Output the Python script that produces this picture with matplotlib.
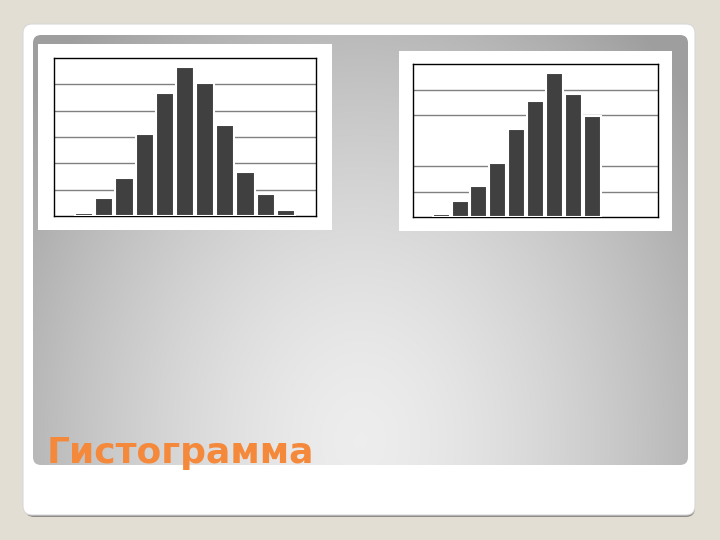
import matplotlib
matplotlib.use("Agg")
import matplotlib.pyplot as plt
import numpy as np
from matplotlib.patches import FancyBboxPatch, Rectangle

# bar heights (grid step = 5)
left_vals = [0.5, 3.5, 7.3, 15.5, 23.3, 28.2, 25.2, 17.2, 8.4, 4.1, 1.2]
right_vals = [0.5, 3.1, 6.0, 10.5, 17.3, 22.8, 28.2, 24.1, 19.8]
left_grid = [5, 10, 15, 20, 25]
right_grid = [5, 10, 20, 25]
title = "Гистограмма"

fig = plt.figure(figsize=(7.2, 5.4), dpi=100)
fig.patch.set_facecolor('#e3ded3')

bg = fig.add_axes([0, 0, 1, 1])
bg.set_xlim(0, 720)
bg.set_ylim(540, 0)
bg.axis('off')

# slide frame
bg.add_patch(FancyBboxPatch((25, 27), 670, 490, boxstyle="round,pad=0,rounding_size=9",
                            fc='#8f8a85', ec='none'))
bg.add_patch(FancyBboxPatch((23, 24), 672, 491, boxstyle="round,pad=0,rounding_size=9",
                            fc='white', ec='#d8d8d8', lw=0.8))

# gray gradient panel
yy, xx = np.mgrid[35:465, 33:688]
d = np.sqrt(((xx - 360) / 330.0) ** 2 + ((yy - 440) / 420.0) ** 2)
shade = np.clip(0.93 - 0.21 * d ** 1.5, 0.62, 1)
img = np.dstack([shade, shade, shade])
panel = FancyBboxPatch((33, 35), 655, 430, boxstyle="round,pad=0,rounding_size=8",
                       fc='none', ec='none')
bg.add_patch(panel)
im = bg.imshow(img, extent=(33, 688, 465, 35), aspect='auto', zorder=1)
im.set_clip_path(panel)

# white chart boxes
bg.add_patch(Rectangle((38, 44), 294, 186, fc='white', ec='none', zorder=2))
bg.add_patch(Rectangle((399, 51), 273, 180, fc='white', ec='none', zorder=2))

bg.text(47, 463, title, color='#f4893b', fontsize=26, fontweight='bold',
        va='baseline', ha='left', zorder=3)


def hist(rect, vals, grid):
    ax = fig.add_axes(rect)
    x = np.arange(1, len(vals) + 1)
    ax.bar(x, vals, width=0.9, color='#404040', edgecolor='white', linewidth=1.5, zorder=3)
    for g in grid:
        ax.axhline(g, color='#808080', lw=1, zorder=1)
    ax.set_xlim(-0.5, 12.5)
    ax.set_ylim(0, 30)
    ax.set_xticks([])
    ax.set_yticks([])
    for s in ax.spines.values():
        s.set_color('black')
        s.set_linewidth(1)
    return ax


hist([54 / 720, (540 - 216) / 540, 262 / 720, 158 / 540], left_vals, left_grid)
hist([413 / 720, (540 - 217) / 540, 245 / 720, 153 / 540], right_vals, right_grid)

fig.savefig('out.png', dpi=100)
